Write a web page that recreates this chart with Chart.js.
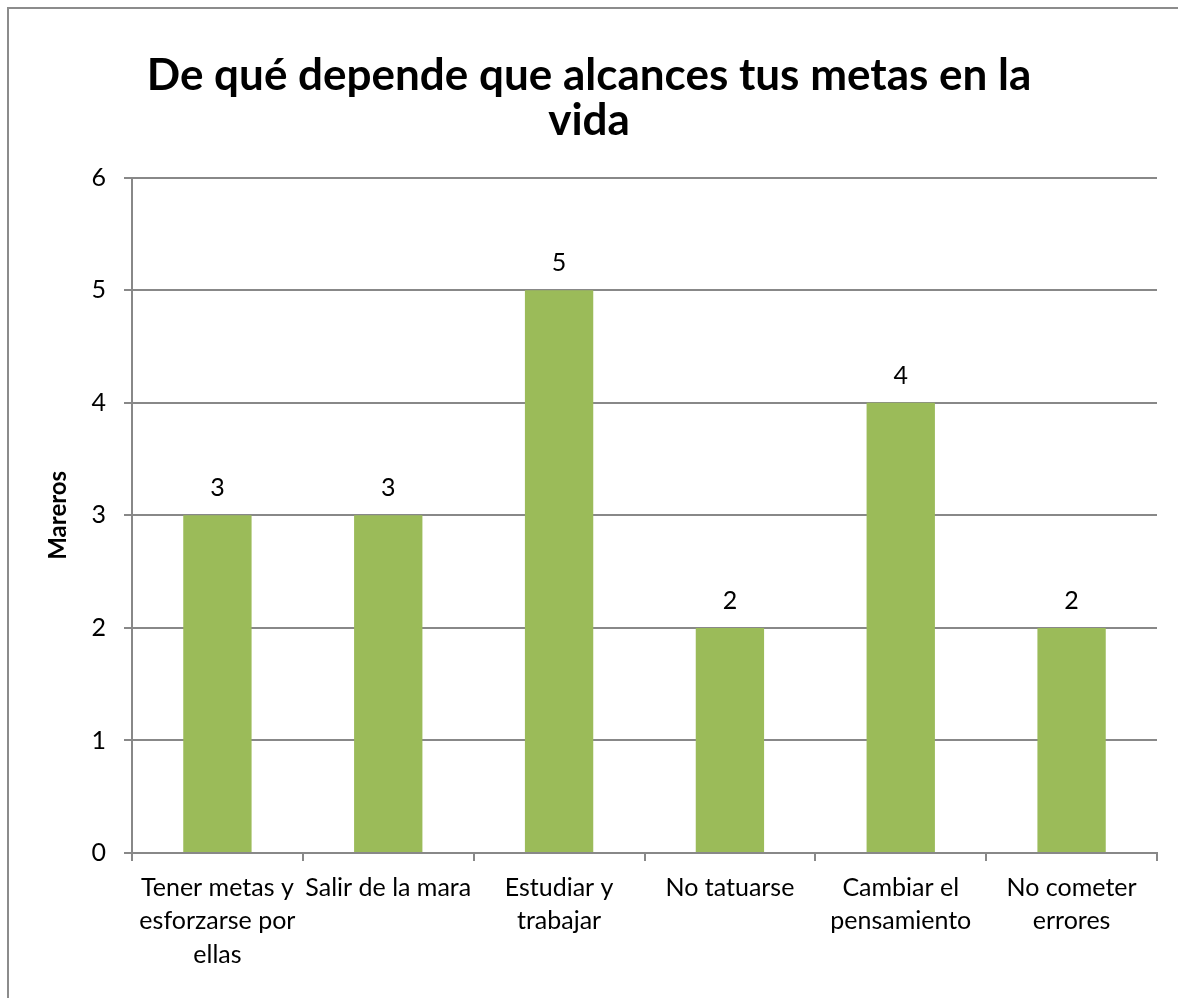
<!DOCTYPE html>
<html>
<head>
<meta charset="utf-8">
<script src="https://cdn.jsdelivr.net/npm/chart.js@4"></script>
<style>
  html, body { margin: 0; padding: 0; background: #fff; overflow: hidden; }
  #wrap { position: absolute; left: 0; top: 0; width: 1178px; height: 998px; }
  #frame {
    position: absolute; left: 7px; top: 7px; width: 1200px; height: 1100px;
    border-left: 2px solid #8c8c8c; border-top: 2px solid #8c8c8c;
    pointer-events: none;
  }
</style>
</head>
<body>
<div id="wrap">
  <canvas id="chart" width="1178" height="998"></canvas>
  <div id="frame"></div>
</div>
<script>
// Data
const categories = [
  ['Tener metas y', 'esforzarse por', 'ellas'],
  'Salir de la mara',
  ['Estudiar y', 'trabajar'],
  'No tatuarse',
  ['Cambiar el', 'pensamiento'],
  ['No cometer', 'errores']
];
const mareros = [3, 3, 5, 2, 4, 2];
const yTicks = [0, 1, 2, 3, 4, 5, 6];

const FONT = 'Lato, "Open Sans", sans-serif';
const gridColor = '#888888';

// value labels above the bars
const valueLabels = {
  id: 'valueLabels',
  afterDatasetsDraw(chart) {
    const ctx = chart.ctx;
    const meta = chart.getDatasetMeta(0);
    ctx.save();
    ctx.font = '25px ' + FONT;
    ctx.fillStyle = '#000';
    ctx.textAlign = 'center';
    ctx.textBaseline = 'middle';
    meta.data.forEach((bar, i) => {
      ctx.fillText(String(mareros[i]), bar.x, bar.y - 27);
    });
    ctx.restore();
  }
};

new Chart(document.getElementById('chart'), {
  type: 'bar',
  data: {
    labels: categories,
    datasets: [{
      data: mareros,
      backgroundColor: '#9BBB59',
      categoryPercentage: 1,
      barPercentage: 0.4
    }]
  },
  options: {
    responsive: false,
    animation: false,
    layout: { padding: { left: 21, right: 21, top: 0, bottom: 0 } },
    plugins: {
      legend: { display: false },
      tooltip: { enabled: false },
      title: {
        display: true,
        text: ['De qué depende que alcances tus metas en la', 'vida'],
        color: '#000',
        font: { family: FONT, size: 44, weight: 'bold', lineHeight: 1.03 },
        padding: { top: 53, bottom: 34 }
      }
    },
    scales: {
      x: {
        grid: {
          display: true,
          drawOnChartArea: false,
          drawTicks: true,
          tickLength: 8,
          color: gridColor,
          lineWidth: 2,
          offset: true
        },
        border: { display: true, color: gridColor, width: 2 },
        ticks: {
          color: '#000',
          padding: 10,
          maxRotation: 0,
          autoSkip: false,
          font: { family: FONT, size: 25, lineHeight: 1.34 }
        },
        afterFit(scale) { scale.height = 145; }
      },
      y: {
        min: 0,
        max: 6,
        afterBuildTicks(scale) { scale.ticks = yTicks.map(v => ({ value: v })); },
        grid: {
          color: gridColor,
          lineWidth: 2,
          drawTicks: true,
          tickLength: 8
        },
        border: { display: true, color: gridColor, width: 2 },
        ticks: {
          color: '#000',
          padding: 18,
          font: { family: FONT, size: 25 }
        },
        title: {
          display: true,
          text: 'Mareros',
          color: '#000',
          font: { family: FONT, size: 24, weight: 'bold' },
          padding: { top: 23, bottom: 0 }
        },
        afterFit(scale) { scale.width = 111; }
      }
    }
  },
  plugins: [valueLabels]
});
</script>
</body>
</html>
